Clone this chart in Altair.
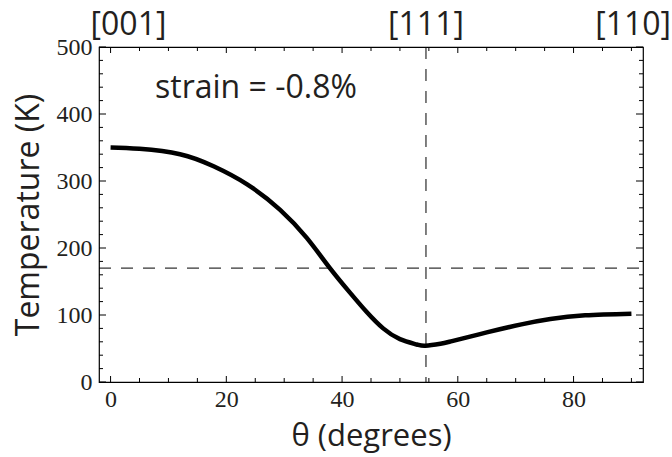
import altair as alt
import pandas as pd

# ---- data ----
theta = [0, 5, 12, 17.8, 23.6, 29.3, 33.9, 37.9, 41.4, 44.3, 47.1, 50, 52.9, 54.4,
         57, 59, 65, 71, 76, 82, 90]
temp = [350, 348, 340, 322, 295, 257, 215, 170, 133, 104, 80, 64, 56, 54,
        57, 61, 74, 86, 94, 99.5, 102]

x_major = [0, 20, 40, 60, 80]
x_minor = [5, 10, 15, 25, 30, 35, 45, 50, 55, 65, 70, 75, 85, 90]
y_major = [0, 100, 200, 300, 400, 500]
y_minor = [20, 40, 60, 80, 120, 140, 160, 180, 220, 240, 260, 280,
           320, 340, 360, 380, 420, 440, 460, 480]

dir_labels = ["[001]", "[111]", "[110]"]
dir_pos = [3.1, 54.5, 90.3]
h_ref = 170
v_ref = 54.5
annotation = "strain = -0.8%"

W, H = 544, 335
INK = "#231f20"
SANS = "Open Sans"
SERIF = "Liberation Serif"

xs = alt.Scale(domain=[-2, 92], nice=False, zero=False)
ys = alt.Scale(domain=[0, 500], nice=False, zero=False)

xax = alt.Axis(values=x_major, ticks=False, domain=False, grid=False,
               labelFont=SERIF, labelFontSize=24, labelColor=INK,
               labelPadding=5, labelFlush=False,
               title="θ (degrees)", titleFont=SANS, titleFontSize=31,
               titleFontWeight="normal", titleColor=INK, titlePadding=10)
yax = alt.Axis(values=y_major, ticks=False, domain=False, grid=False,
               labelFont=SERIF, labelFontSize=24, labelColor=INK,
               labelPadding=7, labelFlush=False,
               title="Temperature (K)", titleFont=SANS, titleFontSize=32,
               titleFontWeight="normal", titleColor=INK, titlePadding=11)

def X(f):
    return alt.X(f, scale=xs, axis=xax, title="θ (degrees)")

def Y(f):
    return alt.Y(f, scale=ys, axis=yax, title="Temperature (K)")

curve_df = pd.DataFrame({"theta": theta, "T": temp})

curve = alt.Chart(curve_df).mark_line(
    color="black", strokeWidth=4.5, interpolate="natural", strokeCap="butt"
).encode(x=X("theta:Q"), y=Y("T:Q"))

hline = alt.Chart(pd.DataFrame({"y": [h_ref]})).mark_rule(
    color="black", strokeWidth=1, strokeDash=[12, 10]
).encode(y=Y("y:Q"), x=alt.value(0), x2=alt.value(W))

vline = alt.Chart(pd.DataFrame({"x": [v_ref]})).mark_rule(
    color="black", strokeWidth=1, strokeDash=[12, 10]
).encode(x=X("x:Q"), y=alt.value(0), y2=alt.value(H))

def xticks(vals, length):
    df = pd.DataFrame({"v": vals})
    bottom = alt.Chart(df).mark_rule(color="black", strokeWidth=1).encode(
        x=X("v:Q"), y=alt.value(H), y2=alt.value(H - length))
    top = alt.Chart(df).mark_rule(color="black", strokeWidth=1).encode(
        x=X("v:Q"), y=alt.value(0), y2=alt.value(length))
    return [bottom, top]

def yticks(vals, length):
    df = pd.DataFrame({"v": vals})
    left = alt.Chart(df).mark_rule(color="black", strokeWidth=1).encode(
        y=Y("v:Q"), x=alt.value(0), x2=alt.value(length))
    right = alt.Chart(df).mark_rule(color="black", strokeWidth=1).encode(
        y=Y("v:Q"), x=alt.value(W), x2=alt.value(W - length))
    return [left, right]

top_text = alt.Chart(pd.DataFrame({"x": dir_pos, "label": dir_labels})).mark_text(
    font=SANS, fontSize=32, color=INK, baseline="alphabetic", align="center"
).encode(x=X("x:Q"), y=alt.value(-12), text="label:N")

note = alt.Chart(pd.DataFrame({"t": [annotation]})).mark_text(
    font=SANS, fontSize=32, color=INK, baseline="alphabetic", align="left"
).encode(x=alt.value(56), y=alt.value(51), text="t:N")

layers = [curve, hline, vline] + xticks(x_major, 6) + xticks(x_minor, 4) \
    + yticks(y_major, 7) + yticks(y_minor, 4) + [top_text, note]

chart = alt.layer(*layers).properties(
    width=W, height=H,
    autosize=alt.AutoSizeParams(type="none"),
    padding={"left": 99, "top": 47, "right": 29, "bottom": 75},
    background="white",
).configure_view(stroke="black", strokeWidth=1.2)

chart.save("out.html", embed_options={"renderer": "svg", "actions": False})
